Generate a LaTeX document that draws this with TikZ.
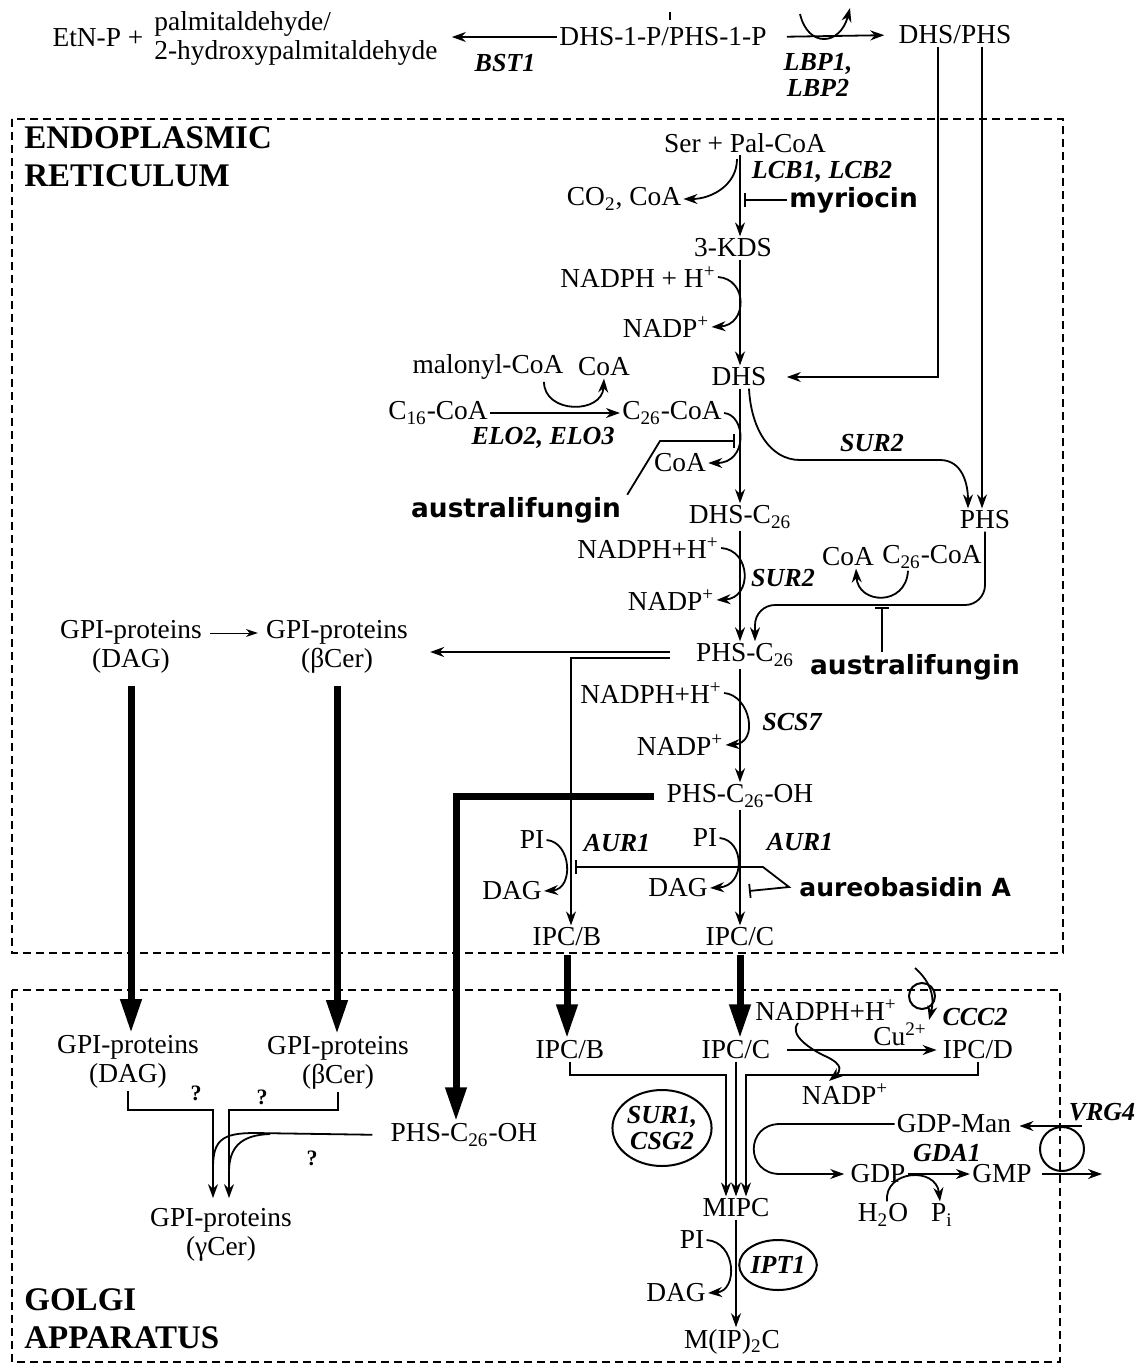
\documentclass[tikz,border=0pt]{standalone}
\usepackage{fontspec}
\setmainfont{Liberation Serif}
\newfontfamily\drugfont{DejaVu Sans}
\usetikzlibrary{arrows.meta,shapes.geometric,calc}
\begin{document}
\begin{tikzpicture}[x=0.5pt,y=-0.5pt,
  every node/.style={inner sep=1pt, font=\fontsize{13.7}{14.5}\selectfont, align=center},
  gene/.style={font=\fontsize{13}{13}\selectfont\bfseries\itshape},
  drug/.style={font=\fontsize{13.2}{14}\selectfont\drugfont\bfseries},
  comp/.style={font=\fontsize{16.5}{19}\selectfont\bfseries, align=left, anchor=west},
  qm/.style={font=\fontsize{11}{12}\selectfont\bfseries},
  ln/.style={line width=0.9pt},
  ar/.style={ln, -{Stealth[length=7pt,width=5pt]}},
  thinar/.style={line width=0.5pt, -{Stealth[length=6pt,width=4pt]}},
  big/.style={line width=3.5pt, -{Triangle[length=17pt,width=10pt]}},
  inh/.style={ln, -{Bar[width=7pt]}},
  inhtwo/.style={ln, {Bar[width=7pt]}-{Bar[width=7pt]}},
  cbox/.style={line width=0.9pt, dash pattern=on 4pt off 2.5pt},
  enz/.style={draw, ellipse, line width=1pt, inner sep=0pt},
  ring/.style={draw, circle, line width=1pt, inner sep=0pt}
]
\useasboundingbox (0,0) rectangle (1137,1370);
\coordinate (axis) at (740,0);

% ---------- top row ----------
\node (etn) at (98,38) {EtN-P +};
\node[anchor=west, align=left] (pal) at (152,38) {palmitaldehyde/\\2-hydroxypalmitaldehyde};
\node (s1p) at (663,37) {DHS-1-P/PHS-1-P};
\draw[ar, shorten >=6pt] (s1p.west) -- (s1p.west -| pal.east);
\node[gene] (bst) at (505,63) {BST1};
\coordinate (tk1) at (670,12); \coordinate (tk2) at (670,20);
\draw[ln] (tk1) -- (tk2);
\node (dp) at (955,35) {DHS/PHS};
\draw[ar, shorten <=9pt, shorten >=6pt] (s1p.east) -- (dp.west);
\coordinate (lbpa) at (800,14); \coordinate (lbpb) at (850,8);
\draw[ar] (lbpa) .. controls (808,48) and (840,46) .. (lbpb);
\node[gene] (lbp) at (818,75) {LBP1,\\LBP2};

% ---------- ER ----------
\draw[cbox] (12,119) rectangle (1063,953);
\node[comp] (er) at (22,157) {ENDOPLASMIC\\RETICULUM};

\node (ser) at (745,143) {Ser + Pal-CoA};
\node[gene] (lcb) at (822,172) {LCB1, LCB2};
\node (co2) at (624,199) {CO\textsubscript{2}, CoA};
\node[drug, anchor=west] (myr) at (787,200) {myriocin};
\node (kds) at (733,248) {3-KDS};
\draw[ar] (ser.south -| axis) -- (kds.north -| axis);
\draw[ar] ($(ser.south -| axis)+(-3,4)$) .. controls +(0,26) and +(28,0) .. (co2.east);
\draw[inh, shorten >=2pt] (myr.west) -- (myr.west -| axis);

\node (nadpha) at (638,277) {NADPH + H\textsuperscript{+}};
\node (nadpa) at (666,327) {NADP\textsuperscript{+}};
\draw[ar] (nadpha.east) .. controls +(30,2) and +(36,-2) .. (nadpa.east);

\node (dhs) at (739,377) {DHS};
\node (phs) at (985,520) {PHS};
\draw[ar] (kds.south -| axis) -- (dhs.north -| axis);
\coordinate (v1) at ([xshift=-8.5pt]dp.south);
\coordinate (v2) at ([xshift=13.5pt]dp.south);
\draw[ar, shorten >=9pt] (v1) |- (dhs.east);
\draw[ar] (v2) -- (v2 |- phs.north);

\node (mal) at (488,367) {malonyl-CoA};
\node (coaa) at (604,367) {CoA};
\node (cxvi) at (438,413) {C\textsubscript{16}-CoA};
\node (cxxvi) at (672,413) {C\textsubscript{26}-CoA};
\draw[ar] (cxvi.east) -- (cxxvi.west);
\draw[ar] ([xshift=28pt]mal.south) .. controls +(0,32) and +(-2,36) .. (coaa.south);
\node[gene] (elo) at (543,438) {ELO2, ELO3};
\node (coab) at (680,463) {CoA};
\draw[ar] (cxxvi.east) .. controls +(22,2) and +(40,0) .. (coab.east);
\node[drug] (ausa) at (516,510) {australifungin};
\coordinate (ia1) at (660,441); \coordinate (ia2) at (735,441);
\draw[inh] ([xshift=2pt]ausa.north east) -- (ia1) -- (ia2);

\node (dhsc) at (740,517) {DHS-C\textsubscript{26}};
\draw[ar] (dhs.south -| axis) -- (dhsc.north -| axis);
\node[gene] (sura) at (872,443) {SUR2};
\draw[ar] ([xshift=5pt]dhs.south) .. controls +(2,40) and +(-30,0) .. (800,460) -- (940,460) .. controls +(22,0) and +(0,-25) .. ([xshift=-8.5pt]phs.north);

\node (nadphb) at (648,548) {NADPH+H\textsuperscript{+}};
\node (nadpb) at (671,600) {NADP\textsuperscript{+}};
\draw[ar] (nadphb.east) .. controls +(30,2) and +(36,-2) .. (nadpb.east);
\node[gene] (surb) at (783,578) {SUR2};
\node (phsc) at (745,655) {PHS-C\textsubscript{26}};
\draw[ar] (dhsc.south -| axis) -- (phsc.north -| axis);
\coordinate (j1) at (755,605);
\draw[ar, rounded corners=10pt] (phs.south) |- (j1) -- ([xshift=5pt]phsc.north);
\node (coac) at (848,557) {CoA};
\node (cxxvib) at (932,557) {C\textsubscript{26}-CoA};
\draw[ar] ([xshift=-12pt]cxxvib.south) .. controls +(-2,36) and +(2,36) .. ([xshift=4pt]coac.south);
\node[drug] (ausb) at (915,667) {australifungin};
\draw[inh] ([xshift=-16.5pt]ausb.north) -- ++(0,-45);

\node (gpid) at (131,647) {GPI-proteins\\(DAG)};
\node (gpib) at (337,647) {GPI-proteins\\(βCer)};
\draw[thinar, shorten <=3pt, shorten >=3pt] ([yshift=7pt]gpid.east) -- ([yshift=7pt]gpib.west);
\draw[ar, shorten <=12pt, shorten >=10pt] ([yshift=1.5pt]phsc.west) -- ([yshift=1.5pt]phsc.west -| gpib.east);
\node (ipcb) at (567,937) {IPC/B};
\node (ipcc) at (740,937) {IPC/C};
\draw[ar, shorten <=12pt] ([yshift=-1.5pt]phsc.west) -| ([xshift=2pt]ipcb.north);

\node (nadphc) at (651,693) {NADPH+H\textsuperscript{+}};
\node (nadpc) at (680,745) {NADP\textsuperscript{+}};
\draw[ar] (nadphc.east) .. controls +(26,2) and +(34,-2) .. (nadpc.east);
\node[gene] (scs) at (792,722) {SCS7};
\node (phsoh) at (740,796) {PHS-C\textsubscript{26}-OH};
\draw[ar] (phsc.south -| axis) -- (phsoh.north -| axis);

\node (pia) at (532,840) {PI};
\node (daga) at (512,891) {DAG};
\draw[ar] (pia.east) .. controls +(25,2) and +(30,-2) .. (daga.east);
\node[gene] (aura) at (617,843) {AUR1};
\node (pib) at (705,838) {PI};
\node (dagb) at (678,888) {DAG};
\draw[ar] (pib.east) .. controls +(25,2) and +(36,-2) .. (dagb.east);
\node[gene] (aurb) at (800,842) {AUR1};
\draw[ar] (phsoh.south -| axis) -- (ipcc.north -| axis);
\node[drug, anchor=west, font=\fontsize{12.5}{14}\selectfont\drugfont\bfseries] (aba) at (797,887) {aureobasidin A};
\coordinate (ib1) at (575,867); \coordinate (ib2) at (763,867); \coordinate (ib3) at (749,891);
\draw[inhtwo] (ib1) -- (ib2) -- ([xshift=-4pt]aba.west) -- (ib3);

% ---------- Golgi ----------
\draw[cbox] (12,990) rectangle (1060,1362);
\node[comp] (golgi) at (22,1319) {GOLGI\\APPARATUS};

\node (ggpid) at (128,1062) {GPI-proteins\\(DAG)};
\node (ggpib) at (338,1063) {GPI-proteins\\(βCer)};
\node (gphsoh) at (464,1135) {PHS-C\textsubscript{26}-OH};
\node (gipcb) at (570,1050) {IPC/B};
\node (gipcc) at (736,1050) {IPC/C};
\node (gipcd) at (978,1050) {IPC/D};

\draw[big, shorten <=5pt] (gpid.south) -- (gpid.south |- ggpid.north);
\draw[big, shorten <=5pt] (gpib.south) -- (gpib.south |- ggpib.north);
\draw[big, shorten <=5pt] (phsoh.west) -| ([xshift=-4pt]gphsoh.north);
\draw[big, shorten <=3pt] (ipcb.south) -- (ipcb.south |- gipcb.north);
\draw[big, shorten <=3pt] (ipcc.south) -- (ipcc.south |- gipcc.north);

\node (ggpic) at (221,1235) {GPI-proteins\\(γCer)};
\coordinate (bx1) at (213,1110);
\coordinate (bx2) at (229,1110);
\draw[ar, shorten >=4pt] (ggpid.south) |- (bx1) -- (bx1 |- ggpic.north);
\draw[ar, shorten >=4pt] (ggpib.south) |- (bx2) -- (bx2 |- ggpic.north);
\node[qm] (qa) at (196,1093) {?};
\node[qm] (qb) at (262,1097) {?};
\node[qm] (qc) at (312,1158) {?};
\coordinate (m1) at (255,1133); \coordinate (m2) at (213,1168);
\coordinate (m3) at (270,1134); \coordinate (m4) at (229,1172);
\draw[ln, shorten <=8pt] (gphsoh.west) -- (m1) .. controls (222,1133) and (213,1140) .. (m2);
\draw[ln] (m3) .. controls (240,1135) and (229,1148) .. (m4);

\draw[ar, shorten <=7pt, shorten >=2pt] (gipcc.east) -- (gipcd.west);
\node (cu) at (900,1034) {Cu\textsuperscript{2+}};
\node[gene] (ccc) at (975,1017) {CCC2};
\node[ring, minimum size=13pt] (cccr) at (922,996) {};
\coordinate (cs) at (915,968);
\draw[ar] (cs) .. controls (938,988) and (932,1008) .. (cu.north east);
\node (nadphd) at (826,1010) {NADPH+H\textsuperscript{+}};
\node (nadpd) at (845,1094) {NADP\textsuperscript{+}};
\draw[ar] ([xshift=-14pt]nadphd.south) .. controls +(-10,12) and (812,1050) .. (825,1056) .. controls (845,1065) and (840,1072) .. ([xshift=-8pt]nadpd.north);

\node (mipc) at (736,1208) {MIPC};
\coordinate (mb1) at (726,1075); \coordinate (mb3) at (746,1075);
\draw[ar] (gipcb.south) |- (mb1) -- (mb1 |- mipc.north);
\draw[ar] (gipcd.south) |- (mb3) -- (mb3 |- mipc.north);
\draw[ar] (gipcc.south) -- (gipcc.south |- mipc.north);
\node[enz, gene, minimum width=47pt, minimum height=38pt] (sur1) at (662,1128) {SUR1,\\CSG2};

\node (gdpman) at (954,1124) {GDP-Man};
\node (gdp) at (878,1174) {GDP};
\node (gmp) at (1002,1174) {GMP};
\node[gene] (gda) at (947,1153) {GDA1};
\draw[ar] (gdp.east) -- (gmp.west);
\draw[ar, shorten >=2pt] (gdpman.west) -- (780,1124) .. controls (745,1124) and (745,1174) .. (780,1174) -- (gdp.west);
\node (h2o) at (883,1215) {H\textsubscript{2}O};
\node (pic) at (942,1215) {P\textsubscript{i}};
\draw[ar] ([xshift=2pt]h2o.north) .. controls (884,1170) and (936,1166) .. ([xshift=-1pt]pic.north);

\node[ring, minimum size=22pt] (vrg) at (1062,1149) {};
\node[gene] (vrgl) at (1102,1112) {VRG4};
\coordinate (vin) at ($(vrg.north)+(20,0)$);
\coordinate (vout) at ($(vrg.south)+(40,0)$);
\draw[ar, shorten >=3pt] (vin) -- (vin -| gdpman.east);
\draw[ar, shorten <=4pt] (gmp.east) -- (gmp.east -| vout);

\node (pid) at (692,1240) {PI};
\node (dagd) at (676,1293) {DAG};
\draw[ar] (pid.east) .. controls +(30,2) and +(30,-2) .. (dagd.east);
\node[enz, gene, minimum width=38pt, minimum height=25pt] (ipt) at (778,1265) {IPT1};
\node (mipxc) at (732,1342) {M(IP)\textsubscript{2}C};
\draw[ar] (mipc.south) -- (mipc.south |- mipxc.north);
\end{tikzpicture}
\end{document}
